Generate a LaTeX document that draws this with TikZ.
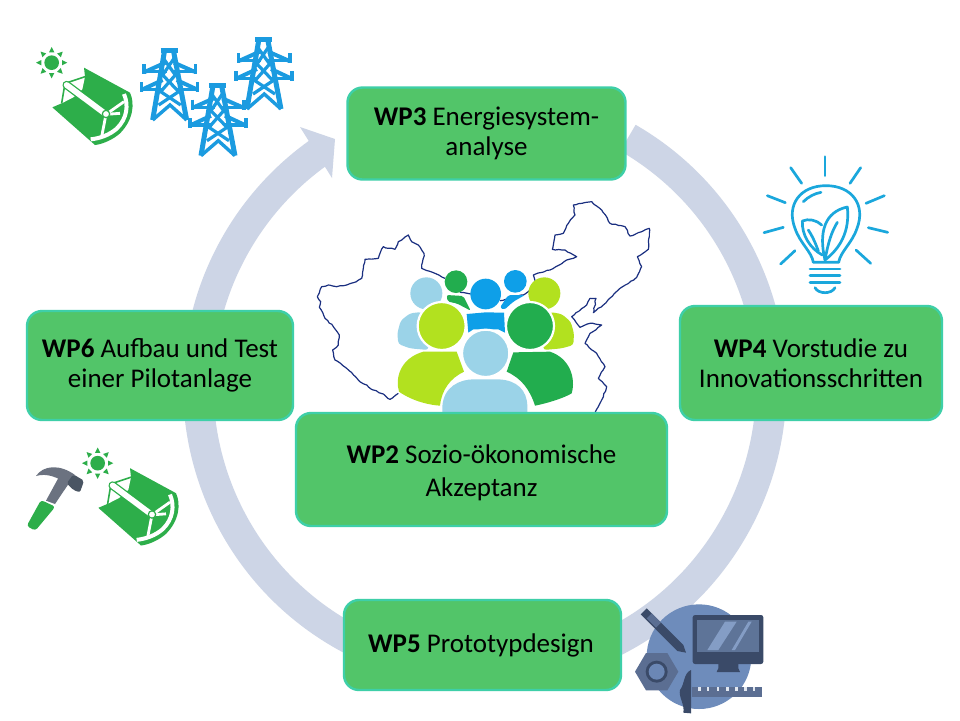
\documentclass[tikz,border=0pt]{standalone}
\usepackage{fontspec}
\usetikzlibrary{decorations.pathmorphing}
\setmainfont{Carlito}
\definecolor{boxfill}{HTML}{52C569}
\definecolor{boxedge}{HTML}{3ECFA8}
\definecolor{ringc}{HTML}{CDD5E6}
\definecolor{mapc}{HTML}{1A2F80}
\definecolor{solar}{HTML}{2DAE4A}
\definecolor{tower}{HTML}{1B9BE0}
\definecolor{bulb}{HTML}{1AA7DC}
\definecolor{plime}{HTML}{B2E11F}
\definecolor{pgreen}{HTML}{22AD4E}
\definecolor{pblue}{HTML}{0E9FE8}
\definecolor{plight}{HTML}{9BD3E8}
\definecolor{tcircle}{HTML}{6E8CBB}
\definecolor{tdark}{HTML}{3A4A68}
\definecolor{tmid}{HTML}{5B6E92}
\definecolor{tscreen}{HTML}{5E7498}
\definecolor{hgray}{HTML}{6B7280}
\definecolor{hdark}{HTML}{4A5563}
\tikzset{
  wpbox/.style={draw=boxedge,fill=boxfill,line width=1.2pt,rounded corners=7.5pt,inner sep=0pt,align=center,font=\fontsize{13.5}{15}\selectfont},
  zoomgrid/.style={x=0.16667pt,y=-0.16667pt},
  person/.style={draw=white,line width=1.1pt},
  mapline/.style={mapc,line width=.6pt,line join=round,decorate,decoration={random steps,segment length=1.6pt,amplitude=.3pt}},
}
\newcommand{\suncollector}{%
  \fill[solar] (95,128) circle (22);
  \foreach \a in {0,45,...,315}{
    \fill[solar,rotate around={\a:(95,128)}] (126,120)--(126,136)--(142,128)--cycle;
  }
  \fill[solar] (192,143)--(330,218) .. controls (345,250) and (340,300) .. (300,340) .. controls (280,358) and (250,372) .. (225,375)--(97,262)--(125,250)--(135,190)--(195,170)--cycle;
  \fill[white] (135,190)--(195,170)--(187,208)--(160,232)--(125,250)--cycle;
  \draw[solar,line width=.8pt] (125,250)--(135,190)--(195,170);
  \draw[white,line width=2pt] (312,222) .. controls (326,255) and (322,295) .. (290,326) .. controls (268,345) and (240,355) .. (212,358);
  \draw[solar,line width=4.2pt,line cap=round] (140,195)--(258,283);
  \draw[white,line width=2.9pt,line cap=round] (140,195)--(258,283);
  \draw[white,line width=1.4pt] (258,283)--(312,245);
  \draw[white,line width=1.4pt] (258,283)--(300,280);
  \draw[white,line width=1.4pt] (258,283)--(245,350);
  \fill[white,draw=solar,line width=.6pt] (258,282) circle (11);
}
\newcommand{\towerdraw}{%
  \begin{scope}[tower,line width=2.5pt,line join=miter]
    \draw (422,90)--(473,90);
    \draw (434,90)--(398,300);
    \draw (460,90)--(500,300);
    \draw[line width=1.7pt] (398,300)--(450,255)--(500,300);
    \draw[line width=1.6pt] (430,115)--(466,165)--(422,215)--(482,255);
    \draw[line width=1.6pt] (462,115)--(428,165)--(476,215)--(416,255);
    \draw[line width=2pt] (436,128)--(376,155);
    \draw[line width=2pt] (462,128)--(523,155);
    \draw[line width=1.8pt] (372,132)--(372,162);
    \draw[line width=1.8pt] (527,132)--(527,162);
    \draw[line width=2pt] (428,180)--(368,208);
    \draw[line width=2pt] (470,180)--(530,208);
    \draw[line width=1.8pt] (365,187)--(365,217);
    \draw[line width=1.8pt] (533,187)--(533,217);
    \draw[line width=1.8pt] (376,155)--(440,155);
    \draw[line width=1.8pt] (523,155)--(460,155);
    \draw[line width=1.8pt] (368,208)--(430,208);
    \draw[line width=1.8pt] (530,208)--(470,208);
  \end{scope}
}
\begin{document}
\begin{tikzpicture}[x=0.5pt,y=-0.5pt]
\useasboundingbox (0,0) rectangle (960,720);
\fill[white] (0,0) rectangle (960,720);

% ring
\draw[ringc,line width=15.2pt] (484.7,386) ++(-60:286.5) arc[start angle=-60,end angle=235.5,radius=286.5];
\fill[ringc] (300,127)--(335,139)--(332,178)--cycle;

% map
\begin{scope}[shift={(300,190)},zoomgrid]
  \draw[mapline]
   (435,265)--(405,250)--(365,235)--(372,190)--(355,165)--(335,155)--(325,135)--(305,150)--(295,155)--(285,178)--(265,175)--(250,170)--(235,205)--(195,208)--(185,265)--(160,278)--(140,285)--(110,290)--(85,285)--(65,290)--(52,320)--(62,335)--(58,352)--(75,385)--(100,410)--(118,435)--(115,465)--(98,480)--(105,510)--(140,535)--(175,570)--(220,600)--(250,612)--(270,628)--(295,610);
  \draw[mapline]
   (885,668)--(905,630)--(920,590)--(895,565)--(915,530)--(890,490)--(855,460)--(870,430)--(905,405)--(870,400)--(840,412)--(815,380)--(860,345)--(870,325)--(888,325)--(880,368)--(910,345)--(960,295)--(1010,262)--(1025,230)--(1012,200)--(1045,178)--(1048,115)--(1025,125)--(990,138)--(975,110)--(930,100)--(905,60)--(875,35)--(820,45)--(825,75)--(805,100)--(790,130)--(765,135)--(757,178)--(795,180)--(830,200)--(800,210)--(750,240)--(700,255)--(705,272);
  \draw[mapline] (480,307)--(512,312);
  \draw[mapline] (600,332)--(670,315)--(692,297);

  % people, back row
  \fill[plight] (379,310) circle (48);
  \fill[plime] (733,310) circle (48);
  \fill[pgreen] (468,275) circle (34);
  \fill[pblue] (646,274) circle (34);
  \fill[pgreen,rounded corners=1pt] (440,315)--(490,318)--(512,362)--(470,340)--(443,335)--cycle;
  \fill[pblue,rounded corners=1pt] (625,315)--(675,315)--(640,335)--(612,360)--(600,352)--cycle;
  \fill[pblue] (557,312) circle (46);
  \fill[plight,rounded corners=1.5pt] (365,366)--(330,370)--(302,392)--(292,430)--(295,462)--(330,475)--(385,480)--(385,400)--cycle;
  \fill[plime,rounded corners=1.5pt] (750,366)--(785,372)--(812,395)--(822,430)--(820,465)--(785,475)--(730,480)--(730,400)--cycle;
  \fill[pblue] (500,372)--(557,367)--(612,368)--(615,428)--(595,418)--(520,418)--(505,428)--cycle;
  \fill[plime] (470,485)--(492,545) .. controls (450,565) and (425,600) .. (420,647) .. controls (390,645) and (340,635) .. (297,605) .. controls (285,565) and (300,505) .. (370,485)--cycle;
  \fill[pgreen] (640,487)--(620,545) .. controls (665,565) and (690,600) .. (705,647) .. controls (740,640) and (790,625) .. (815,610) .. controls (828,565) and (810,505) .. (750,485)--cycle;
  \draw[person,fill=plime] (425,408) circle (72);
  \draw[person,fill=pgreen] (690,408) circle (72);
  \draw[person,fill=plight] (557,490) circle (71);
  \fill[plight] (427,680)--(427,650) .. controls (430,590) and (480,568) .. (520,568)--(595,568) .. controls (650,570) and (682,600) .. (682,650)--(682,680)--cycle;
\end{scope}

% boxes
\node[wpbox,minimum width=278pt*0.5,minimum height=92pt*0.5] (wp3) at (486.5,133.5) {\textbf{WP3} Energiesystem-\\analyse};
\node[wpbox,minimum width=262pt*0.5,minimum height=114pt*0.5] (wp4) at (811,363) {\textbf{WP4} Vorstudie zu\\Innovationsschritten};
\node[wpbox,minimum width=266pt*0.5,minimum height=109pt*0.5] (wp6) at (160,365.5) {\textbf{WP6} Aufbau und Test\\einer Pilotanlage};
\node[wpbox,minimum width=371pt*0.5,minimum height=113pt*0.5,font=\fontsize{13.5}{16.5}\selectfont] (wp2) at (481.5,469.5) {\rule{0pt}{12.5pt}\textbf{WP2} Sozio-ökonomische\\Akzeptanz};
\node[wpbox,minimum width=277pt*0.5,minimum height=90pt*0.5] (wp5) at (482.5,645) {\hspace*{-1.5pt}\textbf{WP5} Prototypdesign};

% solar collectors
\begin{scope}[shift={(20,20)},zoomgrid]\suncollector\end{scope}
\begin{scope}[shift={(66,420.5)},zoomgrid]\suncollector\end{scope}

% pylons
\begin{scope}[shift={(20,20)},zoomgrid]\towerdraw\end{scope}
\begin{scope}[shift={(68.3,55.7)},zoomgrid]\towerdraw\end{scope}
\begin{scope}[shift={(114.3,9)},zoomgrid]\towerdraw\end{scope}

% hammer
\begin{scope}[shift={(10,440)},zoomgrid]
  \fill[hgray] (108,182)--(135,192)--(178,128)--(150,105)--cycle;
  \fill[solar,rounded corners=1.5pt] (93,180)--(136,200)--(76,272)--(50,258)--cycle;
  \fill[hgray] (78,108) .. controls (100,75) and (150,72) .. (195,105)--(170,132) .. controls (145,112) and (110,98) .. (78,108)--cycle;
  \fill[hdark,rounded corners=1pt] (190,103)--(222,122)--(210,157)--(190,150)--(170,130)--cycle;
\end{scope}

% bulb
\begin{scope}[shift={(750,145)},zoomgrid,bulb,line width=1.35pt,line cap=round,line join=round]
  \draw (225,35)--(225,92);
  \draw (122,68)--(155,115);
  \draw (332,68)--(300,115);
  \draw (52,152)--(106,173);
  \draw (403,152)--(348,175);
  \draw (42,263)--(100,247);
  \draw (413,262)--(355,248);
  \draw (92,357)--(135,317);
  \draw (362,355)--(318,315);
  \draw (190,352) .. controls (185,320) and (150,295) .. (135,250) .. controls (108,180) and (150,122) .. (228,122) .. controls (306,122) and (348,180) .. (321,250) .. controls (306,295) and (271,320) .. (266,352)--cycle;
  \draw (160,170) .. controls (175,155) and (195,145) .. (213,142);
  \draw (225,345) .. controls (205,260) and (225,200) .. (292,186) .. controls (300,260) and (270,310) .. (225,345)--cycle;
  \draw (225,345) .. controls (235,290) and (245,260) .. (262,232);
  \draw (217,330) .. controls (180,310) and (155,270) .. (157,228) .. controls (175,220) and (200,225) .. (215,240);
  \draw (205,318) .. controls (195,290) and (185,270) .. (175,255);
  \draw (180,372)--(270,372);
  \draw (180,392)--(270,392);
  \draw (180,412)--(270,412);
  \draw (195,428) .. controls (205,448) and (245,448) .. (255,428);
\end{scope}

% tools
\begin{scope}[shift={(620,590)},zoomgrid]
  \fill[tcircle] (237,200) circle (157);
  \fill[tdark,rounded corners=1.2pt] (218,75) rectangle (430,222);
  \fill[tscreen] (232,90) rectangle (418,185);
  \fill[tcircle!85!white] (262,180)--(315,95)--(350,95)--(295,180)--cycle;
  \fill[tcircle!85!white] (335,180)--(385,95)--(395,95)--(345,180)--cycle;
  \fill[tdark] (295,222)--(355,222)--(355,235)--(360,246)--(290,246)--(295,235)--cycle;
  \fill[tdark] (80,55)--(62,73)--(172,183)--(198,188)--(190,165)--cycle;
  \fill[tmid] (95,70)--(80,85)--(108,113)--(123,98)--cycle;
  \fill[tmid] ({110+65},245)--({110+32},{245+56})--({110-32},{245+56})--({110-65},245)--({110-32},{245-56})--({110+32},{245-56})--cycle;
  \fill[tdark] (110,245) circle (33);
  \fill[tcircle!85!tmid] (110,245) circle (24);
  \fill[tmid] (215,292) rectangle (425,322);
  \foreach \xx in {235,260,290,318,345,372,398}{\fill[white!80!tcircle] (\xx,292) rectangle ++(8,12);}
  \fill[tdark] (213,240) .. controls (190,250) and (195,280) .. (180,300) .. controls (175,320) and (195,345) .. (190,368) -- (213,370) -- cycle;
\end{scope}
\end{tikzpicture}
\end{document}
